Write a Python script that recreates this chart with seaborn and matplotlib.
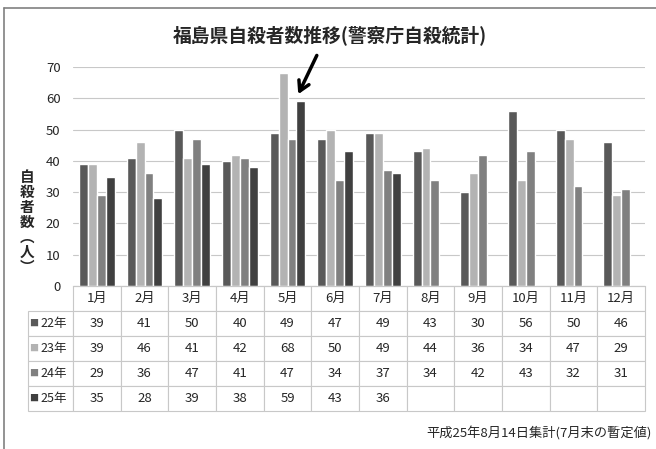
import numpy as np
import pandas as pd
import seaborn as sns
import matplotlib.pyplot as plt
from matplotlib.lines import Line2D

# Chart data
months = ["1月", "2月", "3月", "4月", "5月", "6月", "7月", "8月", "9月", "10月", "11月", "12月"]
years = ["22年", "23年", "24年", "25年"]
h22 = [39, 41, 50, 40, 49, 47, 49, 43, 30, 56, 50, 46]
h23 = [39, 46, 41, 42, 68, 50, 49, 44, 36, 34, 47, 29]
h24 = [29, 36, 47, 41, 47, 34, 37, 34, 42, 43, 32, 31]
h25 = [35, 28, 39, 38, 59, 43, 36, np.nan, np.nan, np.nan, np.nan, np.nan]
colors = ["#595959", "#b3b3b3", "#808080", "#404040"]

title = "福島県自殺者数推移(警察庁自殺統計)"
ylabel = "自殺者数︵人︶"
footnote = "平成25年8月14日集計(7月末の暫定値)"

# Long-form table for seaborn
series = [h22, h23, h24, h25]
df = pd.DataFrame({
    "month": months * len(years),
    "year": [y for y in years for _ in months],
    "count": [v for s in series for v in s],
})

sns.set_style("white")
plt.rcParams["font.family"] = ["Noto Sans CJK JP", "DejaVu Sans"]

fig = plt.figure(figsize=(6.56, 4.49), dpi=100)
ax = fig.add_axes([73 / 656, 1 - 286 / 449, 572 / 656, 219 / 449])

sns.barplot(data=df, x="month", y="count", hue="year", palette=colors,
            width=0.75, ax=ax, legend=False, saturation=1)

ax.set_ylim(0, 70)
ax.set_xlim(-0.5, 11.5)
ax.set_yticks(range(0, 71, 10))
ax.yaxis.grid(True, color="#c8c8c8", lw=0.8)
ax.set_axisbelow(True)
for s in ["top", "right", "left"]:
    ax.spines[s].set_visible(False)
ax.spines["bottom"].set_color("#c8c8c8")
ax.tick_params(axis="y", length=0, labelsize=9.5, pad=9)
ax.set_xticks([])
ax.set_xlabel("")
ax.set_ylabel("")

# Data table under the plot: first column holds the row labels
cell_text = [[""] + months]
for s in series:
    cell_text.append([""] + [("" if np.isnan(v) else str(int(v))) for v in s])
label_w = 45 / 617
col_w = (1 - label_w) / 12
tbl = ax.table(cellText=cell_text, colWidths=[label_w] + [col_w] * 12,
               cellLoc="center", bbox=[-45 / 572, -125 / 219, 617 / 572, 125 / 219])
tbl.auto_set_font_size(False)
tbl.set_fontsize(9.5)
for (r, c), cell in tbl.get_celld().items():
    cell.set_edgecolor("#c8c8c8")
    cell.set_linewidth(0.8)
    if r == 0 and c == 0:
        cell.visible_edges = ""

# Row labels with colour keys
row_h = 125 / 219 / 5
for i, (yr, col) in enumerate(zip(years, colors)):
    yc = -row_h * (i + 1.5)
    ax.text(-44 / 572, yc, "■", color=col, fontsize=6.5,
            ha="left", va="center", transform=ax.transAxes)
    ax.text(-33 / 572, yc, yr, fontsize=9,
            ha="left", va="center", transform=ax.transAxes)

# Title, axis label, footnote
fig.text(330 / 656, 1 - 35 / 449, title, ha="center", va="center",
         fontsize=13.5, fontweight="bold")
fig.text(27 / 656, 1 - 222 / 449, "\n".join(ylabel), ha="center", va="center",
         fontsize=10.5, fontweight="bold", linespacing=0.92)
fig.text(652 / 656, 1 - 433 / 449, footnote, ha="right", va="center", fontsize=9.5)

# Arrow to the May 2013 bar
ax.annotate("", xy=(4.2, 60.5), xytext=(4.64, 74.5), annotation_clip=False,
            arrowprops=dict(arrowstyle="->,head_length=0.7,head_width=0.4",
                            lw=2.5, color="black"))

# Outer frame lines
fig.add_artist(Line2D([4 / 656, 1], [1 - 8 / 449, 1 - 8 / 449], color="#808080", lw=1.2))
fig.add_artist(Line2D([4 / 656, 4 / 656], [0, 1 - 8 / 449], color="#808080", lw=1.2))

fig.savefig("out.png", dpi=100)
